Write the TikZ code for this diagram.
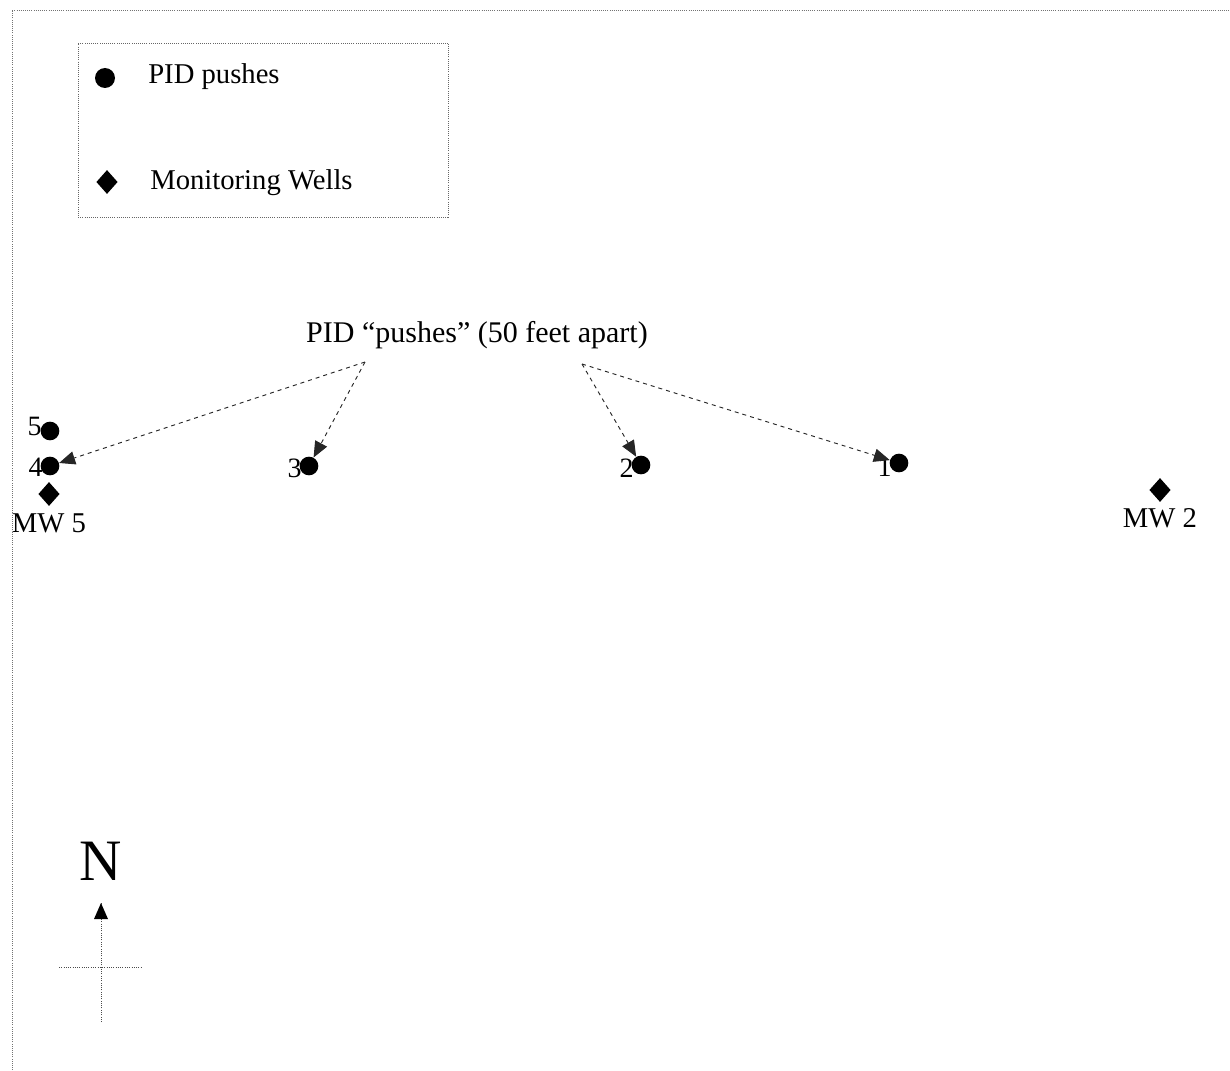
\documentclass[tikz,border=0pt]{standalone}
\usepackage{fontspec}
\setmainfont{Liberation Serif}
\usetikzlibrary{shapes.geometric,arrows.meta}
\begin{document}
\begin{tikzpicture}[x=0.75pt,y=-0.75pt,
  push/.style={circle,fill=black,inner sep=0pt,minimum size=14pt},
  well/.style={diamond,fill=black,inner sep=0pt,minimum width=16pt,minimum height=18pt},
  lbl/.style={font=\fontsize{21.5}{24}\selectfont,inner sep=0pt},
  num/.style={font=\fontsize{21}{24}\selectfont,inner sep=0pt},
  frameline/.style={draw=black!55,line width=0.6pt,densely dotted},
  ptr/.style={draw=black!85,line width=0.7pt,dashed,-{Triangle[length=12pt,width=10pt]}}]
\useasboundingbox (0,0) rectangle (1230,1070);
% page frame
\draw[frameline] (12,1070) -- (12,10) -- (1230,10);
% legend
\node[draw=black!60,line width=0.6pt,densely dotted,minimum width=278pt,minimum height=131pt,inner sep=0pt] (legend) at (263.5,130.5) {};
\node[push,minimum size=15pt] (lgdot) at (105,78) {};
\node[lbl,anchor=west] (lgtxt1) at (148,77) {PID pushes};
\node[well] (lgwell) at (107,182) {};
\node[lbl,anchor=west] (lgtxt2) at (150,183) {Monitoring Wells};
% title
\node[lbl,font=\fontsize{22.5}{26}\selectfont] (title) at (477,335) {PID “pushes” (50 feet apart)};
\coordinate (srcL) at (365,362);
\coordinate (srcR) at (582,364);
% pushes
\node[push] (d5) at (50,431) {};
\node[push] (d4) at (50,466) {};
\node[push] (d3) at (309,466) {};
\node[push] (d2) at (641,465) {};
\node[push] (d1) at (899,463) {};
\node[num,anchor=east] (n5) at (42,426) {5};
\node[num,anchor=east] (n4) at (43,467) {4};
\node[num,anchor=east] (n3) at (302,468) {3};
\node[num,anchor=east] (n2) at (634,468) {2};
\node[num,anchor=east] (n1) at (892,467) {1};
% wells
\node[well] (mw5) at (49,494) {};
\node[lbl] (mw5t) at (49,523) {MW 5};
\node[well] (mw2) at (1160,490) {};
\node[lbl] (mw2t) at (1160,518) {MW 2};
% arrows
\draw[ptr] (srcL) -- (d4);
\draw[ptr] (srcL) -- (d3);
\draw[ptr] (srcR) -- (d2);
\draw[ptr] (srcR) -- (d1);
% north arrow
\node[font=\fontsize{44}{50}\selectfont,inner sep=0pt] (north) at (101,861) {N};
\coordinate (nb) at (101,1022);
\coordinate (nt) at (101,903);
\coordinate (wl) at (59,967);
\coordinate (er) at (142,967);
\draw[draw=black!70,line width=0.7pt,densely dotted] (nb) -- (nt);
\fill (nt) -- ++(-7,16) -- ++(14,0) -- cycle;
\draw[draw=black!70,line width=0.7pt,densely dotted] (wl) -- (er);
\end{tikzpicture}
\end{document}
